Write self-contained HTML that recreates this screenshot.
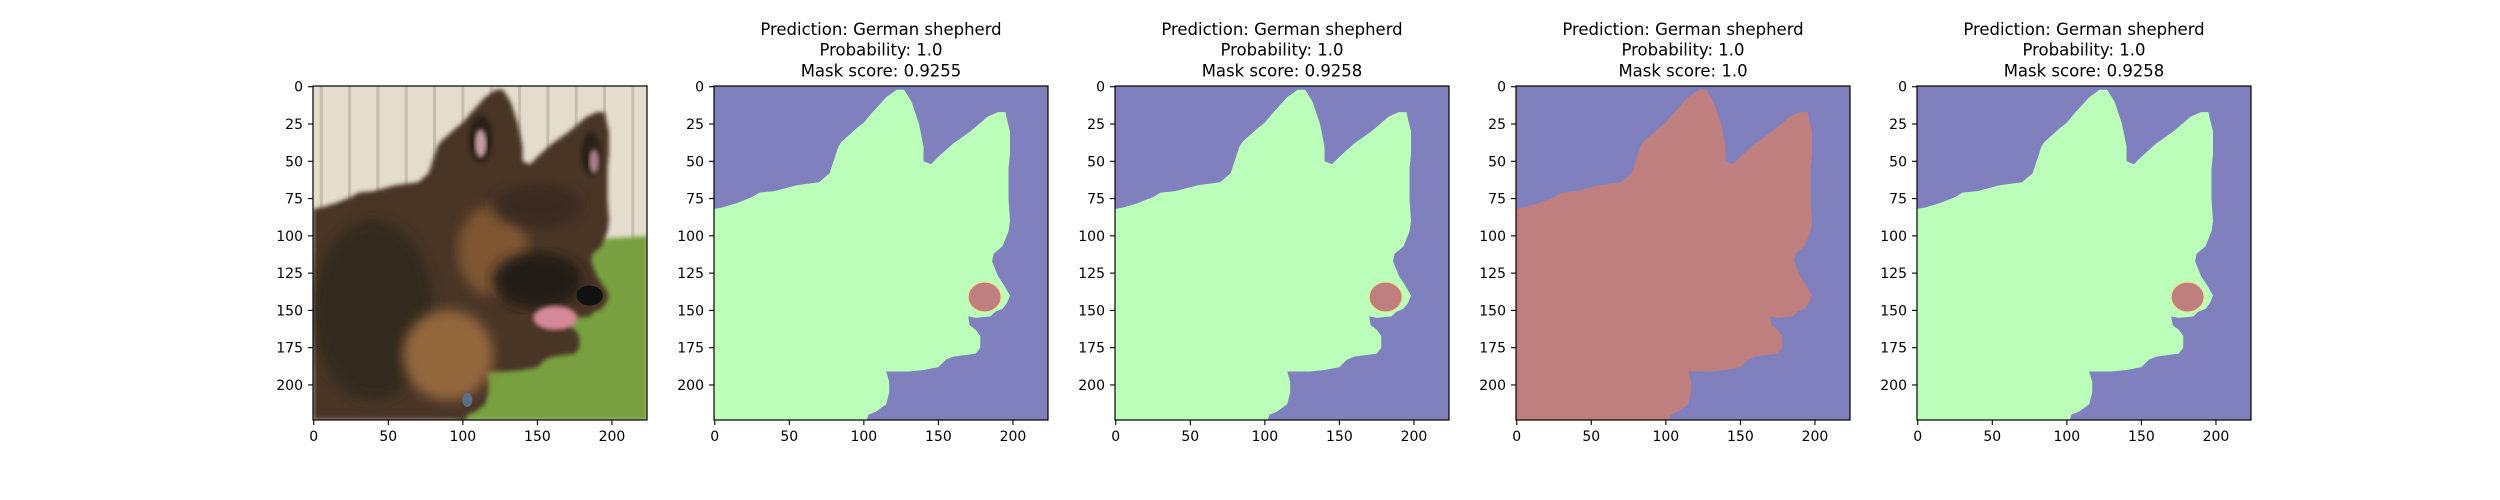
<!DOCTYPE html>
<html><head><meta charset="utf-8"><style>
html,body{margin:0;padding:0;background:#fff;}
svg{display:block;font-family:"DejaVu Sans","Liberation Sans",sans-serif;}
</style></head><body>
<svg id="fig" width="2500" height="500" viewBox="0 0 2500 500" xmlns="http://www.w3.org/2000/svg">
<rect width="2500" height="500" fill="#fff"/>
<defs>
<clipPath id="photoclip"><rect x="313" y="86" width="334" height="334"/></clipPath>
<filter id="soft" x="-10%" y="-10%" width="120%" height="120%"><feGaussianBlur stdDeviation="6"/></filter>
<filter id="soft2" x="-10%" y="-10%" width="120%" height="120%"><feGaussianBlur stdDeviation="2"/></filter>
</defs>
</svg>
<script>
const panelLefts = [313, 714, 1115, 1516, 1917];
const panelKinds = ['photo', 'mask', 'mask', 'full', 'mask'];
const titlePred = ['', 'Prediction: German shepherd', 'Prediction: German shepherd', 'Prediction: German shepherd', 'Prediction: German shepherd'];
const titleProb = ['', 'Probability: 1.0', 'Probability: 1.0', 'Probability: 1.0', 'Probability: 1.0'];
const titleMask = ['', 'Mask score: 0.9255', 'Mask score: 0.9258', 'Mask score: 1.0', 'Mask score: 0.9258'];
const xTicks = [0, 50, 100, 150, 200];
const yTicks = [0, 25, 50, 75, 100, 125, 150, 175, 200];
const dogOutline = [[-0.5,82],[5,81],[15,78],[25,74],[30,71],[40,70],[55,66],[70,64],[77,58],[83,40],[85,37],[95,28],[100,24],[105,18],[115,7],[122,2],[127,2],[132,10],[137,25],[140,40],[140,50],[145,52],[150,47],[160,38],[170,31],[175,27],[183,20],[190,17],[195,17],[196,22],[198,30],[198,45],[197,55],[197,75],[198,90],[197,97],[193,107],[187,112],[186,117],[190,127],[194,133],[198,140],[196,145],[193,149],[188,151],[185,154],[175,155],[170,154],[171,160],[175,163],[178,167],[178,175],[175,179],[160,181],[155,183],[150,188],[140,190],[130,191],[115,191],[117,198],[117,205],[115,213],[108,218],[103,220],[102,223.5],[-0.5,223.5]];
const blobCenter = [181, 141];
const blobRadius = [11, 10];

const svg = document.getElementById('fig');
const NS = 'http://www.w3.org/2000/svg';
const AX_TOP = 86, AX_SIZE = 334;
function mk(tag, attrs, parent){const e=document.createElementNS(NS,tag);for(const k in attrs)e.setAttribute(k,attrs[k]);(parent||svg).appendChild(e);return e;}
function sx(left, v){return left + (v + 0.5) / 224 * AX_SIZE;}
function sy(v){return AX_TOP + (v + 0.5) / 224 * AX_SIZE;}
function poly(left){return dogOutline.map(p => sx(left,p[0]).toFixed(1)+','+sy(p[1]).toFixed(1)).join(' ');}
function pts(left, arr){return arr.map(p => sx(left,p[0]).toFixed(1)+','+sy(p[1]).toFixed(1)).join(' ');}

panelLefts.forEach((left, i) => {
  const g = mk('g', {});
  
  
  const kind = panelKinds[i];
  if (kind === 'photo') {
    const ph = mk('g', {'clip-path':'url(#photoclip)'}, g);
    
    
    mk('rect', {x:left, y:AX_TOP, width:AX_SIZE, height:AX_SIZE, fill:'#e4dccd'}, ph);
    for (let k=0;k<12;k++){ mk('rect',{x:sx(left,k*19+4),y:AX_TOP,width:3,height:sy(110)-AX_TOP,fill:'#a9a08c',opacity:0.5},ph); }
    mk('polygon',{points:pts(left,[[150,105],[224,100],[224,224],[95,224]]),fill:'#78a040',filter:'url(#soft2)'},ph);
    const dg = mk('g',{filter:'url(#soft2)'},ph);
    mk('polygon',{points:poly(left),fill:'#4a3626'},dg);
    mk('ellipse',{cx:sx(left,40),cy:sy(150),rx:60,ry:90,fill:'#33291f',filter:'url(#soft)'},ph);
    mk('ellipse',{cx:sx(left,90),cy:sy(180),rx:45,ry:45,fill:'#94683e',filter:'url(#soft)'},ph);
    mk('ellipse',{cx:sx(left,120),cy:sy(110),rx:35,ry:45,fill:'#7e5630',filter:'url(#soft)'},ph);
    mk('ellipse',{cx:sx(left,150),cy:sy(80),rx:45,ry:22,fill:'#3a2c20',filter:'url(#soft)'},ph);
    mk('ellipse',{cx:sx(left,150),cy:sy(130),rx:45,ry:28,fill:'#221a14',filter:'url(#soft)'},ph);
    mk('ellipse',{cx:sx(left,162),cy:sy(155),rx:22,ry:12,fill:'#d48898',filter:'url(#soft2)'},ph);
    mk('ellipse',{cx:sx(left,185),cy:sy(140),rx:13,ry:10,fill:'#111'},ph);
    mk('ellipse',{cx:sx(left,112),cy:sy(35),rx:12,ry:24,fill:'#2a2018',filter:'url(#soft2)'},ph);
    mk('ellipse',{cx:sx(left,112),cy:sy(38),rx:6,ry:14,fill:'#c59aa2',filter:'url(#soft2)'},ph);
    mk('ellipse',{cx:sx(left,186),cy:sy(45),rx:10,ry:22,fill:'#2a2018',filter:'url(#soft2)'},ph);
    mk('ellipse',{cx:sx(left,188),cy:sy(50),rx:5,ry:12,fill:'#a88088',filter:'url(#soft2)'},ph);
    mk('ellipse',{cx:sx(left,103),cy:sy(210),rx:5,ry:7,fill:'#5a7088'},ph);
  } else {
    const bg = mk('rect', {x:left, y:AX_TOP, width:AX_SIZE, height:AX_SIZE, fill:'#8080bf'}, g);
    
    
    const dp = mk('polygon', {points:poly(left), fill: kind==='full' ? '#bf7f7f' : '#bbffbb'}, g);
    
    
    if (kind === 'mask') {
      const b = mk('ellipse', {cx:sx(left,blobCenter[0]), cy:sy(blobCenter[1]), rx:blobRadius[0]/224*AX_SIZE, ry:blobRadius[1]/224*AX_SIZE, fill:'#bf7f7f', stroke:'#f0e080', 'stroke-width':1}, g);
      
      
    }
  }
  const fr = mk('rect', {x:left, y:AX_TOP, width:AX_SIZE, height:AX_SIZE, fill:'none', stroke:'#000', 'stroke-width':1.2}, g);
  
  
  xTicks.forEach(t => {
    const x = sx(left, t);
    mk('line', {x1:x, y1:AX_TOP+AX_SIZE, x2:x, y2:AX_TOP+AX_SIZE+5, stroke:'#000', 'stroke-width':1.1}, g);
    const tx = mk('text', {x:x, y:AX_TOP+AX_SIZE+21, 'font-size':14, 'text-anchor':'middle', fill:'#000'}, g);
    tx.textContent = t;
    
    
  });
  yTicks.forEach(t => {
    const y = sy(t);
    mk('line', {x1:left-5, y1:y, x2:left, y2:y, stroke:'#000', 'stroke-width':1.1}, g);
    const tx = mk('text', {x:left-10, y:y+5, 'font-size':14, 'text-anchor':'end', fill:'#000'}, g);
    tx.textContent = t;
    
    
  });
  if (titlePred[i]) {
    const cx = left + AX_SIZE/2;
    [titlePred[i], titleProb[i], titleMask[i]].forEach((s, k) => {
      const tt = mk('text', {x:cx, y:35 + k*20.7, 'font-size':16.5, 'text-anchor':'middle', fill:'#000'}, g);
      tt.textContent = s;
      
      
    });
  }
});
</script>
</body></html>
